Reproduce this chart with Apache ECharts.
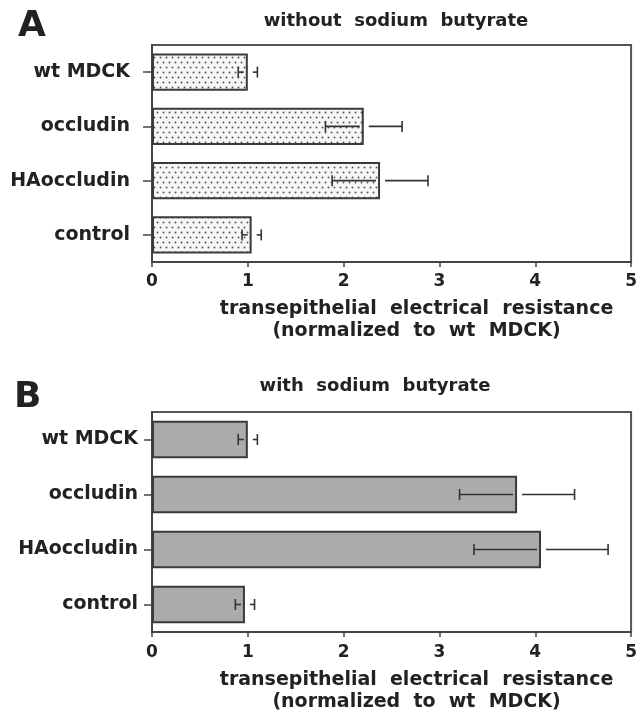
<!DOCTYPE html>
<html>
<head>
<meta charset="utf-8">
<script src="https://cdn.jsdelivr.net/npm/echarts@6/dist/echarts.min.js"></script>
<style>
html,body{margin:0;padding:0;background:#fff;}
#chart{width:640px;height:717px;}
</style>
</head>
<body>
<div id="chart"></div>
<script>
// ---- data ----
const categories = ['wt MDCK', 'occludin', 'HAoccludin', 'control'];
const valuesA = [1.0, 2.21, 2.38, 1.04];
const errorsA = [0.1, 0.4, 0.5, 0.1];
const valuesB = [1.0, 3.81, 4.06, 0.97];
const errorsB = [0.1, 0.6, 0.7, 0.1];
const xTickMin = 0, xTickMax = 5, xTickStep = 1;
const titleA = 'without  sodium  butyrate';
const titleB = 'with  sodium  butyrate';
const axisTitle = 'transepithelial  electrical  resistance\n(normalized  to  wt  MDCK)';

// ---- styling ----
const FONT = 'DejaVu Sans';
const TXT = '#222';
const LINE = '#444';

function dotPattern() {
  const c = document.createElement('canvas');
  c.width = 6; c.height = 10;
  const g = c.getContext('2d');
  g.fillStyle = '#f6f6f6';
  g.fillRect(0, 0, 6, 10);
  g.fillStyle = '#555';
  g.beginPath(); g.arc(1.5, 2.5, 0.95, 0, Math.PI * 2); g.fill();
  g.beginPath(); g.arc(4.5, 7.5, 0.95, 0, Math.PI * 2); g.fill();
  return c;
}

function errRender(params, api) {
  const v = api.value(0), i = api.value(1), e = api.value(2);
  const lo = api.coord([v - e, i]);
  const mid = api.coord([v, i]);
  const hi = api.coord([v + e, i]);
  const y = mid[1];
  const h = 5.5;
  const st = { stroke: '#333', lineWidth: 1.6 };
  const innerEnd = Math.max(lo[0] + 1, mid[0] - 4);
  const outerStart = Math.min(hi[0] - 1, mid[0] + 5);
  return {
    type: 'group',
    children: [
      { type: 'line', shape: { x1: lo[0], y1: y, x2: innerEnd, y2: y }, style: st },
      { type: 'line', shape: { x1: outerStart, y1: y, x2: hi[0], y2: y }, style: st },
      { type: 'line', shape: { x1: lo[0], y1: y - h, x2: lo[0], y2: y + h }, style: st },
      { type: 'line', shape: { x1: hi[0], y1: y - h, x2: hi[0], y2: y + h }, style: st }
    ]
  };
}

function xAxisCfg(gridIndex, labelMargin, nameGap) {
  return {
    type: 'value', gridIndex: gridIndex,
    min: xTickMin, max: xTickMax, interval: xTickStep,
    axisLine: { show: true, lineStyle: { color: LINE, width: 2 } },
    axisTick: { show: true, inside: false, length: 5, lineStyle: { color: LINE, width: 1.5 } },
    splitLine: { show: false },
    axisLabel: { color: TXT, fontFamily: FONT, fontWeight: 'bold', fontSize: 17, margin: labelMargin },
    name: axisTitle,
    nameLocation: 'middle',
    nameGap: nameGap,
    nameTextStyle: { color: TXT, fontFamily: FONT, fontWeight: 'bold', fontSize: 19, lineHeight: 22, align: 'center', padding: [0, 0, 0, 50] }
  };
}

function yAxisCfg(gridIndex, labelMargin, tickLen) {
  return {
    type: 'category', gridIndex: gridIndex, data: categories, inverse: true,
    axisLine: { show: true, lineStyle: { color: LINE, width: 2 } },
    axisTick: { show: true, alignWithLabel: true, length: tickLen, lineStyle: { color: LINE, width: 1.5 } },
    axisLabel: { color: TXT, fontFamily: FONT, fontWeight: 'bold', fontSize: 19, margin: labelMargin }
  };
}

const chart = echarts.init(document.getElementById('chart'), null, { renderer: 'canvas' });
const option = {
  backgroundColor: '#fff',
  animation: false,
  grid: [
    { left: 152, top: 45, width: 480, height: 217, show: true, borderColor: '#555', borderWidth: 2, backgroundColor: 'transparent' },
    { left: 152, top: 412, width: 481, height: 220, show: true, borderColor: '#555', borderWidth: 2, backgroundColor: 'transparent' }
  ],
  xAxis: [xAxisCfg(0, 11, 36), xAxisCfg(1, 12, 37)],
  yAxis: [yAxisCfg(0, 22, 9), yAxisCfg(1, 14, 8)],
  graphic: [
    { type: 'text', left: 18, top: 9, style: { text: 'A', font: 'bold 36px "' + FONT + '"', fill: TXT } },
    { type: 'text', left: 14, top: 380, style: { text: 'B', font: 'bold 36px "' + FONT + '"', fill: TXT } },
    { type: 'text', x: 396, y: 21, style: { text: titleA, font: 'bold 18px "' + FONT + '"', fill: TXT, align: 'center', verticalAlign: 'middle' } },
    { type: 'text', x: 375, y: 386, style: { text: titleB, font: 'bold 18px "' + FONT + '"', fill: TXT, align: 'center', verticalAlign: 'middle' } }
  ],
  series: [
    {
      type: 'bar', xAxisIndex: 0, yAxisIndex: 0, data: valuesA, barCategoryGap: '31%',
      itemStyle: { color: { image: dotPattern(), repeat: 'repeat' }, borderColor: '#3a3a3a', borderWidth: 2 }
    },
    {
      type: 'custom', xAxisIndex: 0, yAxisIndex: 0, renderItem: errRender, z: 5,
      encode: { x: 0, y: 1 },
      data: categories.map(function (c, i) { return [valuesA[i], i, errorsA[i]]; })
    },
    {
      type: 'bar', xAxisIndex: 1, yAxisIndex: 1, data: valuesB, barCategoryGap: '32%',
      itemStyle: { color: '#ababab', borderColor: '#3a3a3a', borderWidth: 2 }
    },
    {
      type: 'custom', xAxisIndex: 1, yAxisIndex: 1, renderItem: errRender, z: 5,
      encode: { x: 0, y: 1 },
      data: categories.map(function (c, i) { return [valuesB[i], i, errorsB[i]]; })
    }
  ]
};
chart.setOption(option);
</script>
</body>
</html>
